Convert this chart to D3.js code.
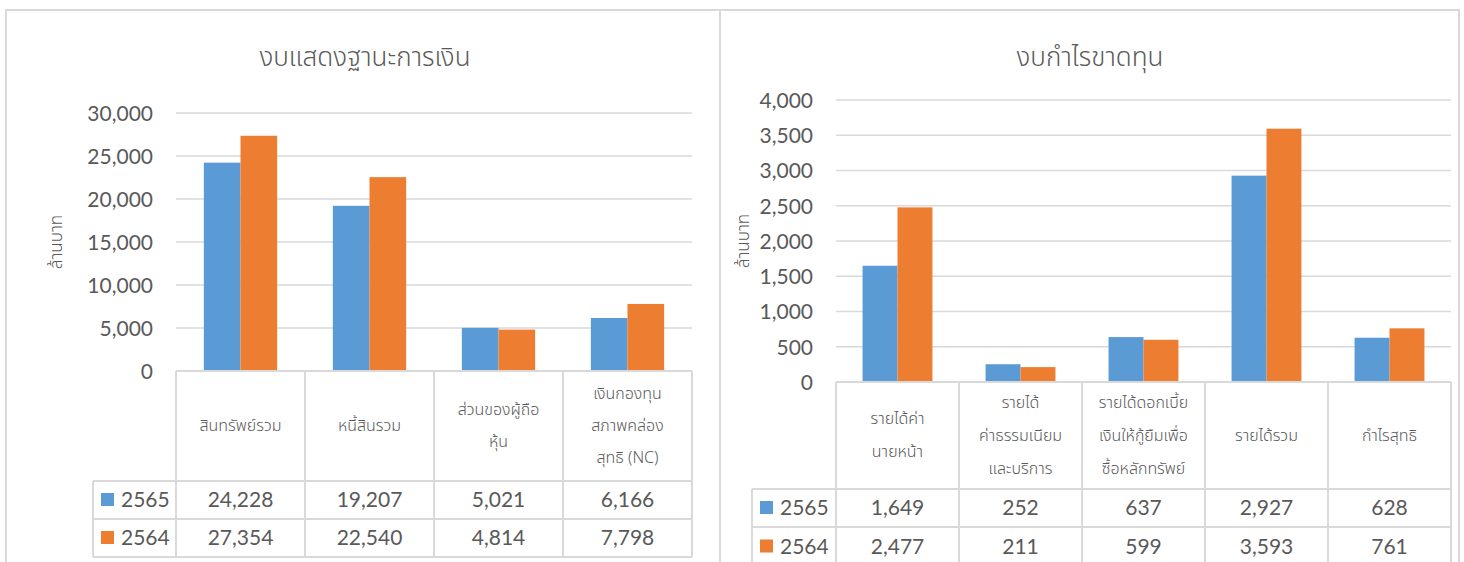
<!DOCTYPE html>
<html>
<head>
<meta charset="utf-8">
<script src="https://cdn.jsdelivr.net/npm/d3@7"></script>
<style>
  body { margin: 0; background: #fff; }
  text { fill: #595959; }
  .thai { font-family: "Noto Sans Thai", "Noto Sans", "DejaVu Sans", sans-serif; font-weight: 300; }
  .num { font-family: Lato, "Open Sans", sans-serif; }
</style>
</head>
<body>
<div id="main"></div>
<script>
// left chart: balance sheet
const bsTitle = "งบแสดงฐานะการเงิน";
const bsCategories = [["สินทรัพย์รวม"], ["หนี้สินรวม"], ["ส่วนของผู้ถือ", "หุ้น"], ["เงินกองทุน", "สภาพคล่อง", "สุทธิ (NC)"]];
const bs2565 = [24228, 19207, 5021, 6166];
const bs2564 = [27354, 22540, 4814, 7798];
const bsTicks = [0, 5000, 10000, 15000, 20000, 25000, 30000];

// right chart: income statement
const isTitle = "งบกำไรขาดทุน";
const isCategories = [["รายได้ค่า", "นายหน้า"], ["รายได้", "ค่าธรรมเนียม", "และบริการ"], ["รายได้ดอกเบี้ย", "เงินให้กู้ยืมเพื่อ", "ซื้อหลักทรัพย์"], ["รายได้รวม"], ["กำไรสุทธิ"]];
const is2565 = [1649, 252, 637, 2927, 628];
const is2564 = [2477, 211, 599, 3593, 761];
const isTicks = [0, 500, 1000, 1500, 2000, 2500, 3000, 3500, 4000];

const seriesNames = ["2565", "2564"];
const colors = ["#5B9BD5", "#ED7D31"];
const unitLabel = "ล้านบาท";

const width = 1464, height = 562;
const grid = "#D9D9D9";
const fmt = d3.format(",d");

const svg = d3.select("#main").append("svg")
  .attr("width", width).attr("height", height);

// outer frame and divider
svg.append("rect").attr("x", 6).attr("y", 10).attr("width", 1453).attr("height", 600)
  .attr("fill", "none").attr("stroke", grid).attr("stroke-width", 2);
svg.append("line").attr("x1", 720).attr("x2", 720).attr("y1", 10).attr("y2", height)
  .attr("stroke", grid).attr("stroke-width", 2);

function drawChart(o) {
  const g = svg.append("g");
  const x = d3.scaleBand().domain(d3.range(o.cats.length)).range([o.left, o.right]);
  const y = d3.scaleLinear().domain([0, d3.max(o.ticks)]).range([o.bottom, o.top]);
  const inner = d3.scaleBand().domain(seriesNames).range([0, x.bandwidth()])
    .paddingInner(0).paddingOuter(0.76);

  g.append("text").attr("class", "thai")
    .attr("x", o.titleX).attr("y", o.titleY)
    .attr("text-anchor", "middle").attr("font-size", 26)
    .text(o.title);

  // gridlines
  g.selectAll(".grid").data(o.ticks.filter(t => t > 0)).join("line")
    .attr("x1", o.left).attr("x2", o.right)
    .attr("y1", d => y(d)).attr("y2", d => y(d))
    .attr("stroke", grid).attr("stroke-width", 1.5);

  const ax = g.append("g").attr("transform", `translate(${o.left - 23},0)`)
    .call(d3.axisLeft(y).tickValues(o.ticks).tickFormat(fmt).tickSize(0).tickPadding(0));
  ax.select(".domain").remove();
  ax.selectAll("text").attr("class", "num").attr("font-size", 21).attr("fill", "#595959")
    .attr("dy", "0.35em");

  g.append("text").attr("class", "thai")
    .attr("transform", `translate(${o.unitX},${(o.top + o.bottom) / 2}) rotate(-90)`)
    .attr("text-anchor", "middle").attr("font-size", 17)
    .text(unitLabel);

  // bars
  const vals = [o.v2565, o.v2564];
  seriesNames.forEach((s, si) => {
    g.selectAll(".bar" + si).data(vals[si]).join("rect")
      .attr("x", (d, i) => x(i) + inner(s))
      .attr("width", inner.bandwidth())
      .attr("y", d => y(d))
      .attr("height", d => y(0) - y(d))
      .attr("fill", colors[si]);
  });

  // data table
  const rows = [o.bottom, o.row1, o.row2, o.row3];
  const tbl = g.append("g").attr("fill", "none").attr("stroke", grid).attr("stroke-width", 2);
  tbl.append("line").attr("x1", o.left).attr("x2", o.right).attr("y1", o.bottom).attr("y2", o.bottom);
  [o.row1, o.row2, o.row3].forEach(r =>
    tbl.append("line").attr("x1", o.legendX).attr("x2", o.right).attr("y1", r).attr("y2", r));
  d3.range(o.cats.length + 1).forEach(i => {
    const xx = i < o.cats.length ? x(i) : o.right;
    tbl.append("line").attr("x1", xx).attr("x2", xx).attr("y1", o.bottom).attr("y2", o.row3);
  });
  tbl.append("line").attr("x1", o.legendX).attr("x2", o.legendX).attr("y1", o.row1).attr("y2", o.row3);

  // category labels
  const lh = o.lineH;
  o.cats.forEach((lines, i) => {
    const cy = (o.bottom + o.row1) / 2;
    const t = g.append("text").attr("class", "thai").attr("font-size", 16)
      .attr("text-anchor", "middle");
    lines.forEach((ln, j) => {
      t.append("tspan").attr("x", x(i) + x.bandwidth() / 2)
        .attr("y", cy + (j - (lines.length - 1) / 2) * lh + 5)
        .text(ln);
    });
  });

  // value rows with legend keys
  vals.forEach((arr, si) => {
    const cy = (rows[si + 1] + rows[si + 2]) / 2;
    g.append("rect").attr("x", o.legendX + 8).attr("y", cy - 7).attr("width", 13).attr("height", 13)
      .attr("fill", colors[si]);
    g.append("text").attr("class", "num").attr("font-size", 21)
      .attr("x", o.legendX + 28).attr("y", cy).attr("dy", "0.35em")
      .text(seriesNames[si]);
    g.selectAll(".val" + si).data(arr).join("text")
      .attr("class", "num").attr("font-size", 21).attr("text-anchor", "middle")
      .attr("x", (d, i) => x(i) + x.bandwidth() / 2)
      .attr("y", cy).attr("dy", "0.35em")
      .text(d => fmt(d));
  });
}

drawChart({
  title: bsTitle, titleX: 365, titleY: 66,
  cats: bsCategories, v2565: bs2565, v2564: bs2564, ticks: bsTicks,
  left: 176, right: 692, top: 113, bottom: 371,
  row1: 481, row2: 519, row3: 557, legendX: 93, unitX: 62, lineH: 32
});

drawChart({
  title: isTitle, titleX: 1090, titleY: 66,
  cats: isCategories, v2565: is2565, v2564: is2564, ticks: isTicks,
  left: 836, right: 1451, top: 100, bottom: 382,
  row1: 489, row2: 527, row3: 566, legendX: 752, unitX: 749, lineH: 33
});
</script>
</body>
</html>
